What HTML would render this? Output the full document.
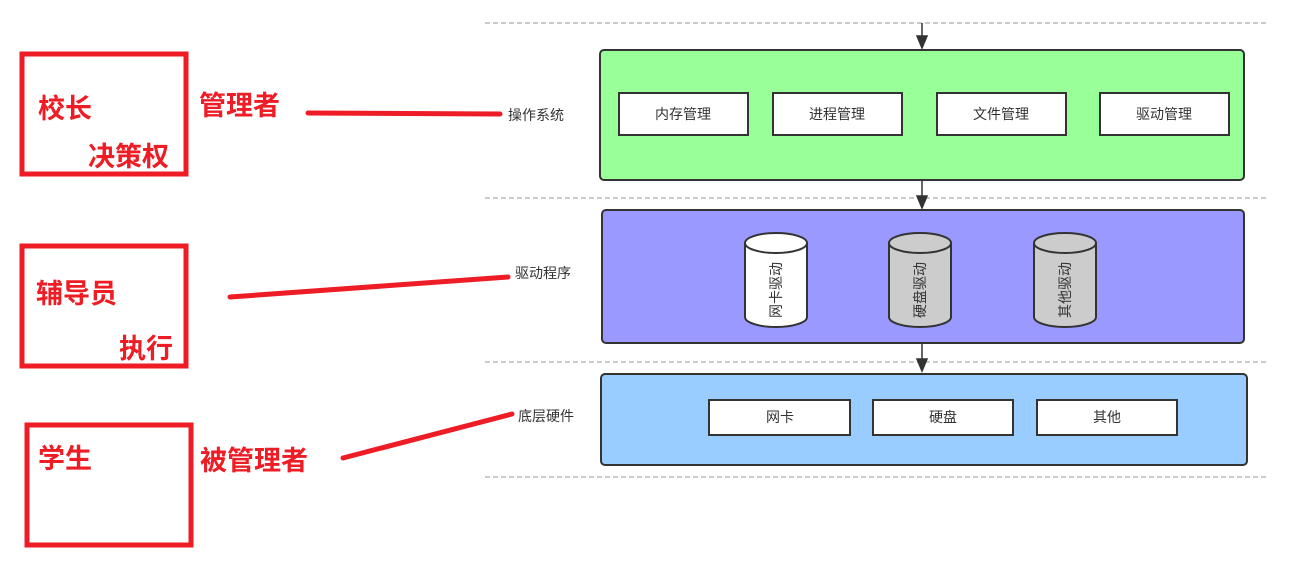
<!DOCTYPE html>
<html><head><meta charset="utf-8"><style>
html,body{margin:0;padding:0;background:#fff;width:1305px;height:563px;overflow:hidden}
svg text{font-family:"Liberation Sans","Noto Sans CJK SC",sans-serif}
.r{fill:#ee1c25;font-weight:bold;font-size:27px}
.s{fill:#333;font-size:14px}
</style></head><body>
<svg width="1305" height="563" viewBox="0 0 1305 563" xmlns="http://www.w3.org/2000/svg">
<defs><marker id="a" markerWidth="8" markerHeight="10" refX="4" refY="9" orient="auto" markerUnits="userSpaceOnUse"><path d="M0,0 L8,0 L4,10z" transform="rotate(0)" fill="#333"/></marker></defs>
<g stroke="#aaa" stroke-dasharray="5,3" stroke-width="1.2">
<line x1="485" y1="23" x2="1268" y2="23"/><line x1="485" y1="198" x2="1268" y2="198"/>
<line x1="485" y1="362" x2="1268" y2="362"/><line x1="485" y1="477" x2="1268" y2="477"/>
</g>
<g stroke="#333" stroke-width="1.5">
<line x1="922" y1="23" x2="922" y2="38"/><path d="M917,36 L927,36 L922,48z" fill="#333"/>
<line x1="922" y1="180" x2="922" y2="198"/><path d="M917,196 L927,196 L922,208z" fill="#333"/>
<line x1="922" y1="343" x2="922" y2="360"/><path d="M917,359 L927,359 L922,371z" fill="#333"/>
</g>
<rect x="600" y="50" width="644" height="130" rx="4" fill="#99ff99" stroke="#333" stroke-width="2"/>
<g fill="#fff" stroke="#333" stroke-width="2">
<rect x="619" y="93" width="129" height="42"/><rect x="773" y="93" width="129" height="42"/>
<rect x="937" y="93" width="129" height="42"/><rect x="1100" y="93" width="129" height="42"/>
</g>
<g class="s" text-anchor="middle">
<text x="683" y="119">内存管理</text><text x="837" y="119">进程管理</text>
<text x="1001" y="119">文件管理</text><text x="1164" y="119">驱动管理</text>
</g>
<rect x="602" y="210" width="642" height="133" rx="4" fill="#9999ff" stroke="#333" stroke-width="2"/>
<g stroke="#333" stroke-width="2">
<path d="M745,243 V317 A31,10 0 0 0 807,317 V243" fill="#fff"/><ellipse cx="776" cy="243" rx="31" ry="10" fill="#fff"/>
<path d="M889,243 V317 A31,10 0 0 0 951,317 V243" fill="#ccc"/><ellipse cx="920" cy="243" rx="31" ry="10" fill="#ccc"/>
<path d="M1034,243 V317 A31,10 0 0 0 1096,317 V243" fill="#ccc"/><ellipse cx="1065" cy="243" rx="31" ry="10" fill="#ccc"/>
</g>
<g class="s" text-anchor="middle">
<text transform="translate(781,290) rotate(-90)">网卡驱动</text>
<text transform="translate(925,290) rotate(-90)">硬盘驱动</text>
<text transform="translate(1070,290) rotate(-90)">其他驱动</text>
</g>
<rect x="601" y="374" width="646" height="91" rx="4" fill="#99ccff" stroke="#333" stroke-width="2"/>
<g fill="#fff" stroke="#333" stroke-width="2">
<rect x="709" y="400" width="141" height="35"/><rect x="873" y="400" width="140" height="35"/><rect x="1037" y="400" width="140" height="35"/>
</g>
<g class="s" text-anchor="middle">
<text x="780" y="422">网卡</text><text x="943" y="422">硬盘</text><text x="1107" y="422">其他</text>
</g>
<g class="s"><text x="508" y="120">操作系统</text><text x="515" y="278">驱动程序</text><text x="518" y="421">底层硬件</text></g>
<g fill="none" stroke="#ee1c25" stroke-width="5">
<rect x="22" y="54" width="164" height="120"/><rect x="22" y="246" width="164" height="120"/><rect x="27" y="425" width="164" height="120"/>
</g>
<g stroke="#ee1c25" stroke-width="5" stroke-linecap="round">
<line x1="308" y1="113" x2="500" y2="114"/><line x1="230" y1="297" x2="508" y2="277"/><line x1="343" y1="458" x2="512" y2="414"/>
</g>
<g class="r">
<text x="38" y="118">校长</text><text x="88" y="166">决策权</text><text x="199" y="115">管理者</text>
<text x="36" y="303">辅导员</text><text x="119" y="358">执行</text>
<text x="38" y="468">学生</text><text x="200" y="470">被管理者</text>
</g>
</svg>
</body></html>
